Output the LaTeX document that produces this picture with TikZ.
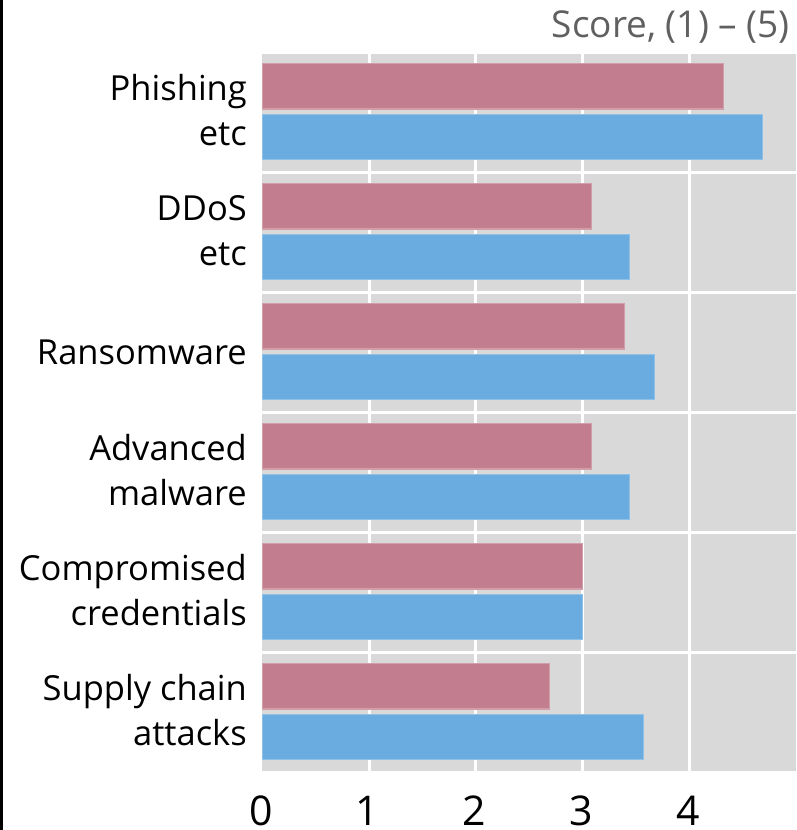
\documentclass[tikz,border=0pt]{standalone}
\usepackage{fontspec}
\setmainfont{Open Sans}
\definecolor{panelgray}{HTML}{D9D9D9}
\definecolor{barpink}{HTML}{C27E8E}
\definecolor{barblue}{HTML}{6AACE0}
\definecolor{titlegray}{HTML}{606060}
\tikzset{
  catlabel/.style={anchor=base east, inner sep=0pt, font=\fontsize{34.5}{45}\selectfont, text=black},
  ticklabel/.style={anchor=base, inner sep=0pt, font=\fontsize{41}{45}\selectfont, text=black},
  pinkbar/.style={fill=barpink, draw=barpink!75!white, line width=1.2pt},
  bluebar/.style={fill=barblue, draw=barblue!75!white, line width=1.2pt},
  gridline/.style={draw=white, line width=3pt},
}
\begin{document}
\begin{tikzpicture}[x=1pt, y=-1pt]
\useasboundingbox (0,0) rectangle (796,830);
\fill[white] (0,0) rectangle (796,830);
\fill[black] (0,0) rectangle (3,830);

% origin of the value axis and pixels per score unit
\def\xo{262.3}
\def\un{106.8}

% grey background panels, one per category
\foreach \i in {0,...,5}
  \fill[panelgray] (\xo,{54+120*\i}) rectangle (795.5,{170.7+120*\i});

% vertical grid lines
\foreach \k in {1,...,4}
  \draw[gridline] ({\xo+\un*\k},54) -- ({\xo+\un*\k},770.7);

% bars: category index / pink score / blue score
\foreach \i/\p/\b in {0/4.32/4.68, 1/3.08/3.44, 2/3.39/3.67, 3/3.08/3.44, 4/3.00/3.00, 5/2.69/3.57} {
  \path[pinkbar] (\xo,{54+120*\i+9.5}) rectangle ({\xo+\un*\p},{54+120*\i+55});
  \path[bluebar] (\xo,{54+120*\i+60.7}) rectangle ({\xo+\un*\b},{54+120*\i+105.7});
}

% category labels
\node[catlabel] (phish1) at (247,100) {Phishing};
\node[catlabel] (phish2) at (247,145.7) {etc};
\node[catlabel] (ddos1) at (247,220) {DDoS};
\node[catlabel] (ddos2) at (247,265.7) {etc};
\node[catlabel] (ransom) at (247,364.8) {Ransomware};
\node[catlabel] (adv1) at (247,460) {Advanced};
\node[catlabel] (adv2) at (247,505.7) {malware};
\node[catlabel] (comp1) at (247,580) {Compromised};
\node[catlabel] (comp2) at (247,625.7) {credentials};
\node[catlabel] (supply1) at (247,700) {Supply chain};
\node[catlabel] (supply2) at (247,745.7) {attacks};

% axis title
\node[anchor=base east, inner sep=0pt, font=\fontsize{37}{45}\selectfont, text=titlegray] (title) at (790,37.7) {Score, (1) – (5)};

% tick labels
\foreach \k in {0,...,4}
  \node[ticklabel] (tick\k) at ({\xo+\un*\k-1.5},825) {\k};
\end{tikzpicture}
\end{document}
